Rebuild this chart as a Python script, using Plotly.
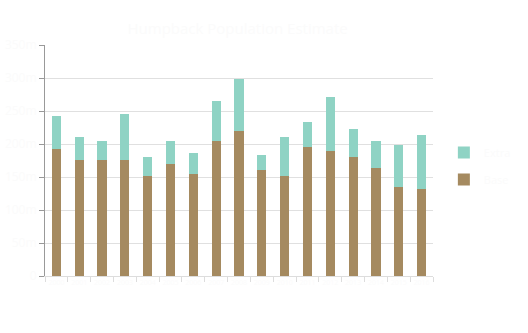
import plotly.graph_objects as go

categories = ["2000", "2001", "2002", "2003", "2004", "2005", "2006", "2007", "2008",
              "2009", "2010", "2011", "2012", "2013", "2014", "2015", "2016"]
base_values = [193, 176, 176, 176, 151, 169, 155, 204, 219, 160, 152, 196, 190, 181, 164, 135, 132]
total_values = [243, 210, 204, 246, 181, 205, 187, 265, 298, 184, 211, 234, 271, 222, 205, 199, 213]
extra_values = [t - b for t, b in zip(total_values, base_values)]
y_ticks = [0, 50, 100, 150, 200, 250, 300, 350]
y_tick_labels = ["0", "50m", "100m", "150m", "200m", "250m", "300m", "350m"]

faint = "#fbfbfb"

fig = go.Figure()
fig.add_trace(go.Bar(x=categories, y=base_values, name="Base",
                     marker=dict(color="#a58a60", line=dict(width=0)),
                     legendgroup="a", legendrank=2))
fig.add_trace(go.Bar(x=categories, y=extra_values, name="Extra",
                     marker=dict(color="#8fd3c4", line=dict(width=0)),
                     legendgroup="b", legendrank=1))

fig.update_layout(
    width=528, height=333,
    margin=dict(l=45, r=95, t=45, b=57),
    barmode="stack", bargap=0.6,
    paper_bgcolor="white", plot_bgcolor="white",
    font=dict(family="Open Sans", size=12, color=faint),
    title=dict(text="Humpback Population Estimate", x=0.45, y=0.93,
               font=dict(size=15, color=faint)),
    legend=dict(x=1.028, y=0.476, yanchor="middle", traceorder="grouped",
                tracegroupgap=8, font=dict(size=11, color=faint)),
    xaxis=dict(showgrid=False, showline=True, linecolor="#dddddd", linewidth=1,
               ticks="outside", tickson="boundaries", ticklen=5, tickcolor="#dddddd",
               tickangle=0, automargin=False,
               tickfont=dict(size=7, color=faint)),
    yaxis=dict(range=[0, 350], tickvals=y_ticks, ticktext=y_tick_labels,
               showgrid=True, gridcolor="#e0e0e0", gridwidth=1,
               showline=True, linecolor="#999999", linewidth=1,
               ticks="outside", ticklen=5, tickcolor="#999999",
               automargin=False,
               zeroline=False, tickfont=dict(size=12, color=faint)),
)

fig.write_html("out.html")
